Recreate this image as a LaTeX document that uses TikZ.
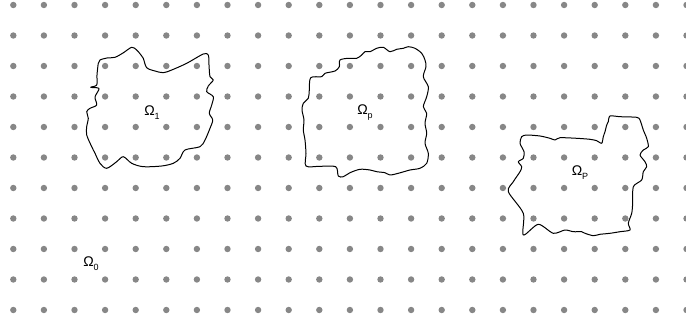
\documentclass[tikz,border=0pt]{standalone}
\usepackage{fontspec}
\setmainfont{Liberation Sans}
\begin{document}
\begin{tikzpicture}[x=1pt,y=-1pt,
  griddot/.style={fill=black!47},
  region/.style={draw=black,line width=1pt,line join=round},
  lbl/.style={inner sep=0pt,font=\fontsize{14}{16}\selectfont}]
\useasboundingbox (0,0) rectangle (686,324);
\fill[white] (0,0) rectangle (686,324);
\foreach \i in {0,...,22}{
  \foreach \j in {0,...,10}{
    \fill[griddot] ({13.3+30.6*\i},{5+30.5*\j}) circle (3.2);
  }
}
% Omega_1
\draw[region] plot[smooth cycle,tension=0.5] coordinates {
(100,60) (107,58) (115,57.3) (123,53) (131.7,47.3) (136.7,50) (141,55) (143.3,58.3)
(146.7,67.7) (155,71) (163.3,72.7) (171.7,70) (186.7,63.3) (203.3,54) (208.3,55)
(209,65) (210,76.7) (213.3,80) (208.3,86) (206.7,91.7) (213.3,96.7) (211.7,105)
(209.3,113.3) (212.7,120) (210,128.3) (205,140) (200,146.7) (185,150) (180,158.3)
(173.3,163.3) (161.7,166) (143.3,166.7) (131.7,163.3) (123.3,156.7) (116.7,161.7)
(106.7,168.3) (100,163.3) (95,153.3) (91.7,146.7) (86.7,135) (86.7,126.7) (88.3,118.3)
(86.7,111.7) (90,108.3) (96.7,105) (95,97) (99,88.5) (90.7,87.3) (96.7,85) (97,75) (98.3,63.3)};
% Omega_p
\draw[region] plot[smooth cycle,tension=0.5] coordinates {
(310.7,77.7) (321.7,76.7) (325,73.3) (335,71) (339.3,66.7) (340,60) (348.3,58.3)
(356.7,58.3) (361.7,55) (365,51.7) (370,51.7) (376.7,48.3) (383.3,47.3) (390,51.7)
(396.7,49.3) (403.3,48.3) (408.3,46.7) (415,48.3) (421.7,53.3) (425,60) (426,66.7)
(423.3,76.7) (428.3,86.7) (426.7,96.7) (423.3,106.7) (426.7,113.3) (425,123.3)
(426.7,133.3) (425,143.3) (428.3,153.3) (426.7,163.3) (420,168.3) (410,170)
(398.3,173.3) (390,175) (385,172.7) (376.7,171.7) (370,170) (360,169.3) (350,172.7)
(343.3,176.7) (338.3,176) (335.7,166.7) (320,166.3) (306,166) (306,153.3) (305,140)
(303.3,130) (304,120) (302,110) (303.3,103.3) (308.3,98.3) (309.3,90)};
% Omega_P
\draw[region] plot[smooth cycle,tension=0.45] coordinates {
(521.7,136.7) (526.7,135) (540,136) (550,138.3) (555,140) (560,137.7) (576.7,138.3)
(590,139.3) (596.7,140.7) (601.7,143.3) (603.3,136.7) (605,131.7) (606.7,125)
(608.3,121.7) (610,116) (620,116.7) (636.7,117.3) (640,120) (643.3,130) (646.7,138.3)
(648.3,146.7) (643.3,150) (640,155) (645,161.7) (646.7,166.7) (643.3,171.7)
(641.7,180) (633.3,186.7) (632.7,203.3) (631.7,213.3) (628.3,223.3) (630,230)
(620,231.7) (610,233.3) (600,234.3) (593.3,235.7) (585,233.3) (581.7,231.7)
(573.3,231.7) (565,230) (553.3,233.3) (538.3,224.3) (523.3,235) (523.3,213.3)
(508.3,191.7) (513.3,181.7) (520,171.7) (521.7,166.7) (518.3,161.7) (523.3,158.3)
(524,151.7) (520,143.3)};
\node[lbl] (om1) at (152,113) {Ω\raisebox{-4pt}{\fontsize{9}{10}\selectfont 1}};
\node[lbl] (omp) at (365,113) {Ω\raisebox{-4pt}{\fontsize{9}{10}\selectfont p}};
\node[lbl] (omP) at (580,173) {Ω\raisebox{-4pt}{\fontsize{9}{10}\selectfont P}};
\node[lbl] (om0) at (91,264) {Ω\raisebox{-4pt}{\fontsize{9}{10}\selectfont 0}};
\end{tikzpicture}
\end{document}
